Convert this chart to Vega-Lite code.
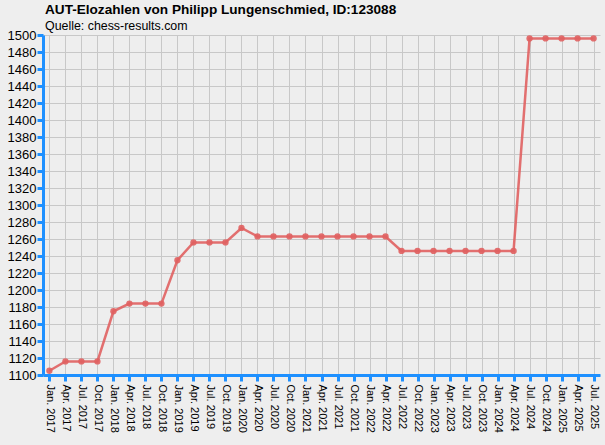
{
  "$schema": "https://vega.github.io/schema/vega-lite/v6.json",
  "width": 557,
  "height": 340,
  "autosize": "none",
  "padding": {"left": 43, "top": 35, "right": 5, "bottom": 70},
  "background": "#EEEEEE",
  "title": {
    "text": "AUT-Elozahlen von Philipp Lungenschmied, ID:123088",
    "subtitle": "Quelle: chess-results.com",
    "anchor": "start",
    "frame": "group",
    "offset": -3,
    "dx": 2,
    "font": "Liberation Sans",
    "fontSize": 13.6,
    "fontWeight": "bold",
    "color": "#000000",
    "subtitleFont": "Liberation Sans",
    "subtitleFontSize": 12.4,
    "subtitleColor": "#000000",
    "subtitlePadding": 3
  },
  "config": {
    "view": {"stroke": null, "fill": "#EEEEEE"},
    "axis": {
      "domainColor": "#1E90FF",
      "domainWidth": 3,
      "tickColor": "#1E90FF",
      "tickWidth": 3,
      "tickSize": 6,
      "gridColor": "#C8C8C8",
      "gridWidth": 1,
      "gridOpacity": 1,
      "labelFont": "Liberation Sans",
      "labelColor": "#000000",
      "title": null
    }
  },
  "data": {
    "values": [
      {"q": "Jan. 2017", "elo": 1105},
      {"q": "Apr. 2017", "elo": 1116},
      {"q": "Jul. 2017", "elo": 1116},
      {"q": "Oct. 2017", "elo": 1116},
      {"q": "Jan. 2018", "elo": 1175},
      {"q": "Apr. 2018", "elo": 1184},
      {"q": "Jul. 2018", "elo": 1184},
      {"q": "Oct. 2018", "elo": 1184},
      {"q": "Jan. 2019", "elo": 1235},
      {"q": "Apr. 2019", "elo": 1256},
      {"q": "Jul. 2019", "elo": 1256},
      {"q": "Oct. 2019", "elo": 1256},
      {"q": "Jan. 2020", "elo": 1273},
      {"q": "Apr. 2020", "elo": 1263},
      {"q": "Jul. 2020", "elo": 1263},
      {"q": "Oct. 2020", "elo": 1263},
      {"q": "Jan. 2021", "elo": 1263},
      {"q": "Apr. 2021", "elo": 1263},
      {"q": "Jul. 2021", "elo": 1263},
      {"q": "Oct. 2021", "elo": 1263},
      {"q": "Jan. 2022", "elo": 1263},
      {"q": "Apr. 2022", "elo": 1263},
      {"q": "Jul. 2022", "elo": 1246},
      {"q": "Oct. 2022", "elo": 1246},
      {"q": "Jan. 2023", "elo": 1246},
      {"q": "Apr. 2023", "elo": 1246},
      {"q": "Jul. 2023", "elo": 1246},
      {"q": "Oct. 2023", "elo": 1246},
      {"q": "Jan. 2024", "elo": 1246},
      {"q": "Apr. 2024", "elo": 1246},
      {"q": "Jul. 2024", "elo": 1496},
      {"q": "Oct. 2024", "elo": 1496},
      {"q": "Jan. 2025", "elo": 1496},
      {"q": "Apr. 2025", "elo": 1496},
      {"q": "Jul. 2025", "elo": 1496}
    ]
  },
  "encoding": {
    "x": {
      "field": "q",
      "type": "ordinal",
      "sort": null,
      "scale": {"type": "point", "padding": 0.4},
      "axis": {"labelAngle": 90, "labelAlign": "left", "labelBaseline": "middle", "labelFontSize": 11, "labelPadding": 3, "grid": true}
    },
    "y": {
      "field": "elo",
      "type": "quantitative",
      "scale": {"domain": [1100, 1500], "nice": false, "zero": false},
      "axis": {"values": [1100, 1120, 1140, 1160, 1180, 1200, 1220, 1240, 1260, 1280, 1300, 1320, 1340, 1360, 1380, 1400, 1420, 1440, 1460, 1480, 1500], "format": "d", "labelFontSize": 13, "labelPadding": 1, "labelFlush": false}
    }
  },
  "layer": [
    {"mark": {"type": "line", "color": "#E06060", "strokeWidth": 2.5, "opacity": 0.9}},
    {"mark": {"type": "point", "filled": true, "color": "#E06060", "size": 40, "opacity": 0.9}}
  ]
}
